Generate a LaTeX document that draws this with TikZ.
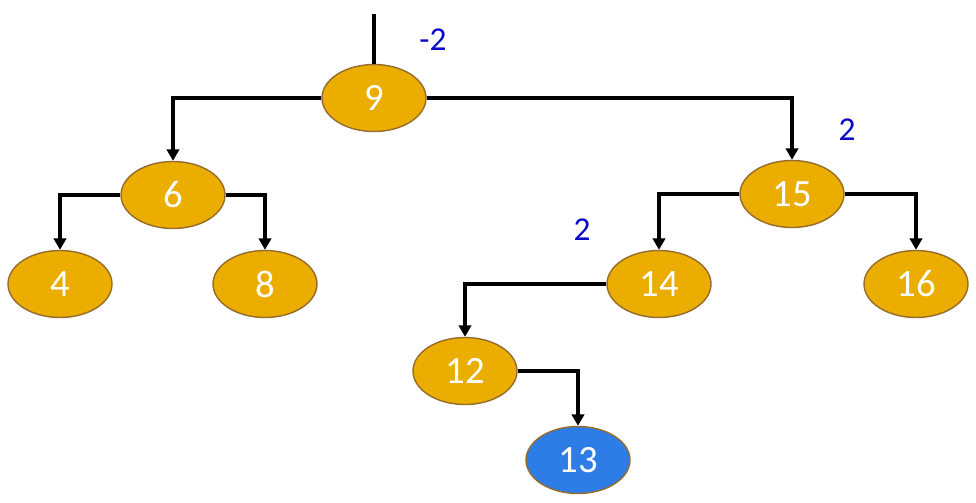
\documentclass[tikz,border=0pt]{standalone}
\usepackage{fontspec}
\setmainfont{Carlito}
\usepackage{xcolor}
\usetikzlibrary{arrows.meta,shapes.geometric}

\definecolor{keygold}{RGB}{234,173,0}
\definecolor{keyedge}{RGB}{150,108,45}
\definecolor{keyblue}{RGB}{46,124,230}
\definecolor{balblue}{RGB}{10,10,200}

\begin{document}
\begin{tikzpicture}[
    arr/.style={-{Triangle[length=6.5pt,width=7pt]}, line width=1.9pt},
    key/.style={ellipse, draw=keyedge, thick, fill=keygold, text=white,
      minimum width=2.08cm, minimum height=1.34cm, inner sep=0pt,
      font=\fontsize{22}{26}\selectfont},
    newkey/.style={key, fill=keyblue},
    bal/.style={text=balblue, font=\fontsize{19}{23}\selectfont}
  ]
    \useasboundingbox (0,0) rectangle (19.52,-10.04);

    % Keys
    \node[key] (n9)  at (7.48, -1.96) {9};
    \node[key] (n6)  at (3.46, -3.90) {6};
    \node[key] (n4)  at (1.20, -5.68) {4};
    \node[key] (n8)  at (5.30, -5.68) {8};
    \node[key] (n15) at (15.84,-3.88) {15};
    \node[key] (n14) at (13.18,-5.68) {14};
    \node[key] (n16) at (18.32,-5.68) {16};
    \node[key] (n12) at (9.30, -7.42) {12};
    \node[newkey] (n13) at (11.56,-9.20) {13};

    % Balance factors
    \node[bal] (b9)  at (8.66, -0.80) {-2};
    \node[bal] (b15) at (16.94,-2.60) {2};
    \node[bal] (b14) at (11.64,-4.60) {2};

    % Root link
    \coordinate (top) at (7.48, -0.28);
    \draw[line width=1.9pt] (top) -- (n9.north);

    % Children
    \draw[arr] (n9.west) -| (n6.north);
    \draw[arr] (n9.east) -| (n15.north);
    \draw[arr] (n6.west) -| (n4.north);
    \draw[arr] (n6.east) -| (n8.north);
    \draw[arr] (n15.west) -| (n14.north);
    \draw[arr] (n15.east) -| (n16.north);
    \draw[arr] (n14.west) -| (n12.north);
    \draw[arr] (n12.east) -| (n13.north);

  \end{tikzpicture}
\end{document}
